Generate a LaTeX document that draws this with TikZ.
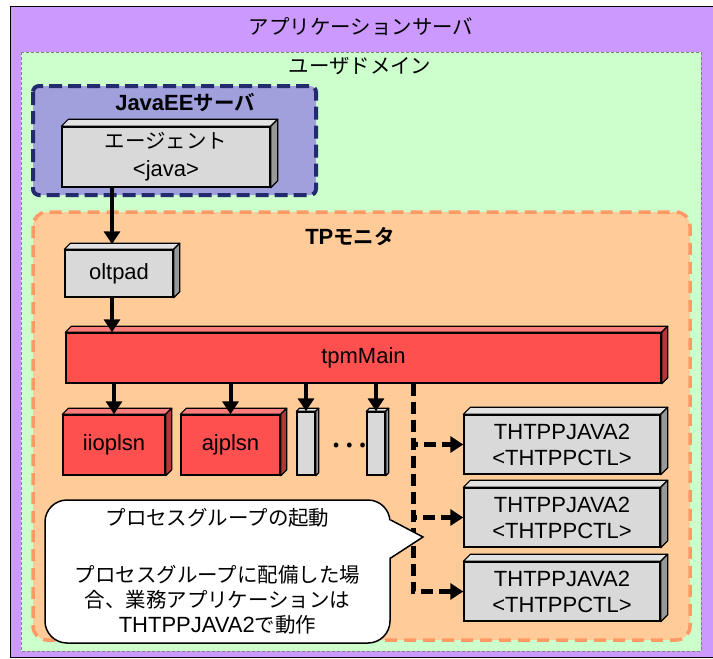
\documentclass[tikz,border=0pt]{standalone}
\usepackage{fontspec}
\setmainfont{Liberation Sans}
\newfontfamily\jp[Scale=0.93,BoldFont={Noto Sans CJK JP Bold}]{Noto Sans CJK JP}
\usetikzlibrary{arrows.meta}

\definecolor{appsv}{HTML}{CC99FF}
\definecolor{userdom}{HTML}{CCFFCC}
\definecolor{javaee}{HTML}{A0A0DC}
\definecolor{javaline}{HTML}{232A6E}
\definecolor{tpmon}{HTML}{FFCC99}
\definecolor{tpline}{HTML}{FF9966}
\definecolor{boxgray}{HTML}{D9D9D9}
\definecolor{procred}{HTML}{FF5050}

\newcommand{\bodyfont}{\fontsize{22}{26}\selectfont}
\newcommand{\ja}[1]{{\jp #1}}
\newcommand{\depthfaces}[3]{%
  \filldraw[fill=#3!75!white, line width=1.2pt, line join=round]
    (#1.north west) -- ++(#2pt,#2pt) -- ([shift={(#2pt,#2pt)}]#1.north east) -- (#1.north east) -- cycle;
  \filldraw[fill=#3!70!black, line width=1.2pt, line join=round]
    (#1.north east) -- ++(#2pt,#2pt) -- ([shift={(#2pt,#2pt)}]#1.south east) -- (#1.south east) -- cycle;
}

\begin{document}
\begin{tikzpicture}[x=1pt,y=-1pt,font=\bodyfont,
  block/.style={draw=black, line width=1.4pt, fill=#1, inner sep=0pt, align=center},
  flow/.style={line width=4pt, -{Triangle[length=13pt,width=16pt]}},
  spawn/.style={line width=5pt, dash pattern=on 12pt off 6pt, -{Triangle[length=13pt,width=16pt]}}]
\useasboundingbox (0,0) rectangle (713,659);
\fill[white] (0,0) rectangle (713,659);
\fill[appsv] (10,6) rectangle (713,657);
\draw[line width=1pt] (713,6) -- (10,6) -- (10,657) -- (713,657);
\filldraw[fill=userdom, draw=gray, line width=0.8pt, dash pattern=on 3pt off 2pt] (21,52) rectangle (701,651);
\filldraw[fill=javaee, draw=javaline, line width=4pt, dash pattern=on 13pt off 6pt, rounded corners=6pt] (33,86) rectangle (316,195);
\filldraw[fill=tpmon, draw=tpline, line width=3.5pt, dash pattern=on 12pt off 7pt, rounded corners=14pt] (33,212) rectangle (690,640);

\node (appsvtitle) at (361,27) {\ja{アプリケーションサーバ}};
\node (domtitle) at (360,66) {\ja{ユーザドメイン}};
\node[font=\bodyfont\bfseries] (javaeetitle) at (185,103) {JavaEE\ja{サーバ}};
\node[font=\bodyfont\bfseries] (tptitle) at (350,237) {TP\ja{モニタ}};

\node[block=boxgray, minimum width=208pt, minimum height=60pt] (agent) at (166,157) {\ja{エージェント}\\[2pt]<java>};
\node[block=boxgray, minimum width=108pt, minimum height=47pt] (oltpad) at (119,273.5) {oltpad};
\node[block=procred, minimum width=595pt, minimum height=50pt] (tpmMain) at (363.5,358) {tpmMain};
\node[block=procred, minimum width=102pt, minimum height=60pt] (iioplsn) at (114,445) {iioplsn};
\node[block=procred, minimum width=99pt, minimum height=60pt] (ajplsn) at (230.5,445) {ajplsn};
\node[block=boxgray, minimum width=18pt, minimum height=63pt] (col1) at (306,443.5) {};
\node[block=boxgray, minimum width=18pt, minimum height=63pt] (col2) at (376,443.5) {};
\node[font=\fontsize{38}{38}\selectfont] (dots) at (349,445) {\ja{…}};
\node[block=boxgray, minimum width=196pt, minimum height=59pt] (thtpp1) at (562,444.5) {THTPPJAVA2\\<THTPPCTL>};
\node[block=boxgray, minimum width=196pt, minimum height=59pt] (thtpp2) at (562,517.5) {THTPPJAVA2\\<THTPPCTL>};
\node[block=boxgray, minimum width=196pt, minimum height=59pt] (thtpp3) at (562,591.5) {THTPPJAVA2\\<THTPPCTL>};

\foreach \n/\d/\c in {agent/7/boxgray, oltpad/6/boxgray, tpmMain/6/procred, iioplsn/6/procred, ajplsn/6/procred, col1/3/boxgray, col2/3/boxgray, thtpp1/7/boxgray, thtpp2/7/boxgray, thtpp3/7/boxgray}
  \depthfaces{\n}{\d}{\c};

\coordinate (oltin) at ([xshift=-7pt,yshift=5pt]oltpad.north);
\draw[flow] (agent.south -| oltin) -- (oltin);
\draw[flow] (oltpad.south -| oltin) -- (oltin |- tpmMain.north);
\foreach \n in {iioplsn,ajplsn,col1,col2}
  \draw[flow] (tpmMain.south -| \n.north) -- (\n.north);
\coordinate (fork) at (413,0);
\foreach \n in {thtpp1,thtpp2,thtpp3}
  \draw[spawn] (tpmMain.south -| fork) |- (\n.west);

\node[draw=black, fill=white, line width=1.5pt, rounded corners=22pt, minimum width=345pt, minimum height=143pt, align=center, font=\fontsize{22}{25}\selectfont] (note) at (217.5,571.5)
  {\ja{プロセスグループの起動}\\[32pt]
   \ja{プロセスグループに配備した場}\\
   \ja{合、業務アプリケーションは}\\
   THTPPJAVA2\ja{で動作}};
\coordinate (notetip) at (423,537);
\fill[white] ([shift={(-2pt,51.5pt)}]note.east) -- (notetip) -- ([shift={(-2pt,13.5pt)}]note.east) -- cycle;
\draw[line width=1.5pt] ([yshift=51.5pt]note.east) -- (notetip) -- ([yshift=13.5pt]note.east);
\end{tikzpicture}
\end{document}
